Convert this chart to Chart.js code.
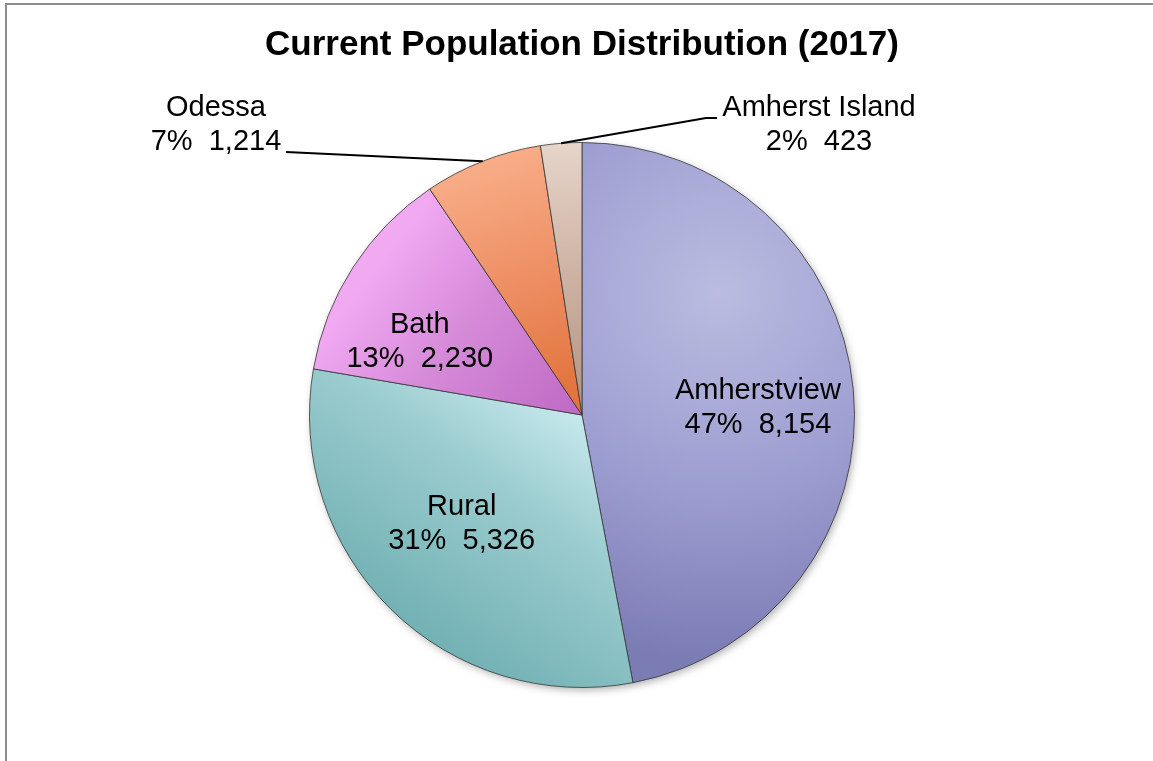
<!DOCTYPE html>
<html>
<head>
<meta charset="utf-8">
<title>Current Population Distribution (2017)</title>
<script src="https://cdn.jsdelivr.net/npm/chart.js@4.4.1/dist/chart.umd.min.js"></script>
<style>
  html, body { margin: 0; padding: 0; background: #fff; }
  .chart-box { position: relative; width: 1153px; height: 761px; }
</style>
</head>
<body>
<div class="chart-box"><canvas id="population_chart"></canvas></div>
<script>
const places = ['Amherstview', 'Rural', 'Bath', 'Odessa', 'Amherst Island'];
const population = [8154, 5326, 2230, 1214, 423];
const chartTitle = 'Current Population Distribution (2017)';

// each slice: gradient from a light point to a dark point (in pie radii from the centre);
// a slice with 'spread' uses a radial gradient around 'from' instead
const sliceShades = [
    { from: [0.5, -0.45], spread: 1.35,      stops: [[0, '#bbbce0'], [0.5, '#9fa0d2'], [1, '#7c7cb5']] },
    { from: [0.0, -0.05],  to: [-0.6, 0.8],  stops: [[0, '#cbecf0'], [0.4, '#9ccdd0'], [1, '#72b1b4']] },
    { from: [-0.75, -0.55], to: [-0.05, 0],  stops: [[0, '#f1a9f2'], [0.45, '#d58ad8'], [1, '#c06cc5']] },
    { from: [-0.3, -0.95], to: [0, -0.1],    stops: [[0, '#f8ad87'], [0.45, '#ef9268'], [1, '#e2743e']] },
    { from: [-0.05, -1],   to: [0, -0.1],    stops: [[0, '#e6d5ca'], [0.5, '#cfb5a6'], [1, '#b99886']] }
];

const FONT = '"Liberation Sans", Arial, sans-serif';

function sliceFill(context) {
    const shade = sliceShades[context.dataIndex];
    const area = context.chart.chartArea;
    if (!area) return shade.stops[1][1];
    // the pie sits in the middle of the chart area
    const cx = (area.left + area.right) / 2;
    const cy = (area.top + area.bottom) / 2;
    const r = Math.min(area.right - area.left, area.bottom - area.top) / 2;
    const c = context.chart.ctx;
    const fx = cx + shade.from[0] * r, fy = cy + shade.from[1] * r;
    const g = shade.spread
        ? c.createRadialGradient(fx, fy, 0, fx, fy, shade.spread * r)
        : c.createLinearGradient(fx, fy, cx + shade.to[0] * r, cy + shade.to[1] * r);
    shade.stops.forEach(s => g.addColorStop(s[0], s[1]));
    return g;
}

// grey frame along the top and left edges
const frame = {
    id: 'frame',
    beforeDraw(chart) {
        const ctx = chart.ctx;
        ctx.save();
        ctx.fillStyle = '#8c8c8c';
        ctx.fillRect(5, 3, chart.width - 5, 2);
        ctx.fillRect(5, 3, 2, chart.height - 3);
        ctx.restore();
    }
};

// soft shadow under the whole pie
const pieShadow = {
    id: 'pieShadow',
    beforeDatasetsDraw(chart) {
        const arc = chart.getDatasetMeta(0).data[0];
        if (!arc) return;
        const ctx = chart.ctx;
        ctx.save();
        ctx.shadowColor = 'rgba(0,0,0,0.35)';
        ctx.shadowBlur = 8;
        ctx.shadowOffsetX = 2;
        ctx.shadowOffsetY = 3;
        ctx.fillStyle = '#888';
        ctx.beginPath();
        ctx.arc(arc.x, arc.y, arc.outerRadius - 1, 0, Math.PI * 2);
        ctx.fill();
        ctx.restore();
    }
};

const sliceLabels = {
    id: 'sliceLabels',
    afterDatasetsDraw(chart, args, opts) {
        const ctx = chart.ctx;
        const meta = chart.getDatasetMeta(0);
        const total = population.reduce((a, b) => a + b, 0);
        ctx.save();
        ctx.font = opts.font;
        ctx.fillStyle = '#000';
        ctx.strokeStyle = '#000';
        ctx.lineWidth = 2;
        ctx.textAlign = 'center';
        ctx.textBaseline = 'middle';
        meta.data.forEach((arc, i) => {
            const p = arc.getProps(['x', 'y', 'startAngle', 'endAngle', 'outerRadius'], true);
            const mid = (p.startAngle + p.endAngle) / 2;
            const pct = Math.round(population[i] / total * 100);
            const lines = [places[i], pct + '%  ' + population[i].toLocaleString('en-US')];
            const place = opts.placement[i];
            let tx, ty;
            if (place.inside) {
                tx = p.x + Math.cos(mid) * p.outerRadius * place.r + place.dx;
                ty = p.y + Math.sin(mid) * p.outerRadius * place.r + place.dy;
            } else {
                tx = p.x + place.dx;
                ty = p.y + place.dy;
                ctx.beginPath();
                ctx.moveTo(p.x + Math.cos(mid) * p.outerRadius, p.y + Math.sin(mid) * p.outerRadius);
                place.leader.forEach(pt => ctx.lineTo(p.x + pt[0], p.y + pt[1]));
                ctx.stroke();
            }
            ctx.fillText(lines[0], tx, ty - opts.lineGap / 2);
            ctx.fillText(lines[1], tx, ty + opts.lineGap / 2);
        });
        ctx.restore();
    }
};

const ctx = document.getElementById('population_chart').getContext('2d');
const populationChart = new Chart(ctx, {
    type: 'pie',
    data: {
        labels: places,
        datasets: [{
            data: population,
            backgroundColor: sliceFill,
            borderColor: 'rgba(55,55,55,0.8)',
            borderWidth: 1
        }]
    },
    options: {
        responsive: true,
        maintainAspectRatio: false,
        animation: false,
        events: [],
        layout: {
            padding: { top: 0, left: 11, right: 0, bottom: 73 }
        },
        plugins: {
            legend: { display: false },
            tooltip: { enabled: false },
            title: {
                display: true,
                text: chartTitle,
                color: '#000',
                font: { family: FONT, size: 35, weight: 'bold', lineHeight: 1.2 },
                padding: { top: 24, bottom: 76 }
            },
            sliceLabels: {
                font: '29px ' + FONT,
                lineGap: 34,
                placement: [
                    { inside: true, r: 0.63, dx: 5, dy: 9 },
                    { inside: true, r: 0.63, dx: 0, dy: -13 },
                    { inside: true, r: 0.63, dx: -18, dy: 20 },
                    { inside: false, dx: -366, dy: -290, leader: [[-296, -263]] },
                    { inside: false, dx: 237, dy: -290, leader: [[124, -297], [135, -297]] }
                ]
            }
        }
    },
    plugins: [frame, pieShadow, sliceLabels]
});
</script>
</body>
</html>
